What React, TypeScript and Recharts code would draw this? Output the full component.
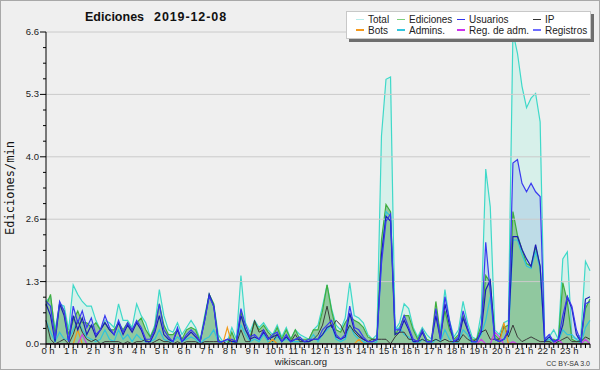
import React from 'react';
import { ComposedChart, Area, Line, XAxis, YAxis, ReferenceLine } from 'recharts';

// values every 12 minutes (5 per hour), 0 h .. 24 h
const total = [
  0.9, 1.0, 0.3, 0.85, 0.8,
  0.3, 1.25, 1.05, 0.9, 0.8,
  0.8, 0.5, 0.3, 0.5, 0.45,
  0.35, 0.85, 0.5, 0.5, 0.35,
  0.85, 0.6, 0.45, 0.15, 0.4,
  1.15, 0.6, 0.3, 0.25, 0.45,
  0.2, 0.35, 0.5, 0.35, 0.1,
  0.6, 1.05, 0.85, 0.2, 0.05,
  0.05, 0.35, 0.1, 1.45, 0.45,
  0.25, 0.5, 0.35, 0.45, 0.3,
  0.2, 0.4, 0.15, 0.35, 0.1,
  0.3, 0.2, 0.15, 0.1, 0.3,
  0.4, 0.8, 1.25, 0.75, 0.4,
  0.3, 0.55, 1.3, 0.6, 0.55,
  0.45, 0.2, 0.1, 0.2, 4.4,
  5.6, 5.65, 0.3, 0.45, 0.85,
  0.75, 0.35, 0.15, 0.35, 0.2,
  0.1, 0.6, 0.3, 1.15, 0.5,
  0.15, 0.3, 0.9, 0.45, 0.15,
  0.1, 0.65, 3.7, 2.9, 0.3,
  0.2, 0.45, 0.5, 6.6, 6.15,
  5.45, 5.0, 5.2, 5.3, 4.7,
  0.1, 0.15, 0.3, 0.1, 1.8,
  1.95, 0.15, 0.1, 0.2, 1.75,
  1.55,
];

const ediciones = [
  0.8, 1.05, 0.2, 0.85, 0.7,
  0.2, 0.5, 0.7, 0.45, 0.45,
  0.35, 0.45, 0.3, 0.45, 0.3,
  0.3, 0.45, 0.3, 0.45, 0.3,
  0.45, 0.55, 0.3, 0.15, 0.35,
  0.85, 0.4, 0.2, 0.2, 0.3,
  0.1, 0.3, 0.35, 0.3, 0.05,
  0.55, 1.05, 0.85, 0.1, 0.0,
  0.0, 0.25, 0.0, 0.7, 0.3,
  0.15, 0.45, 0.3, 0.4, 0.25,
  0.15, 0.35, 0.1, 0.3, 0.1,
  0.3, 0.1, 0.1, 0.1, 0.3,
  0.3, 0.7, 1.25, 0.7, 0.3,
  0.25, 0.45, 0.6, 0.5, 0.45,
  0.35, 0.15, 0.1, 0.1, 2.2,
  2.95, 2.8, 0.2, 0.35, 0.6,
  0.6, 0.3, 0.1, 0.3, 0.1,
  0.05, 0.9, 0.2, 0.7, 0.3,
  0.1, 0.2, 0.6, 0.3, 0.1,
  0.1, 0.4, 1.45, 1.3, 0.2,
  0.1, 0.35, 0.4, 2.8, 2.3,
  2.0, 1.7, 1.65, 2.05, 1.65,
  0.1, 0.05, 0.1, 0.05, 1.3,
  0.9, 0.1, 0.05, 0.1, 0.75,
  0.95,
];

const usuarios = [
  0.9, 0.8, 0.1, 0.9, 0.7,
  0.05, 0.8, 0.45, 0.7, 0.35,
  0.55, 0.2, 0.3, 0.6, 0.35,
  0.2, 0.5, 0.25, 0.45, 0.3,
  0.5, 0.35, 0.1, 0.1, 0.3,
  0.85, 0.3, 0.15, 0.05, 0.35,
  0.05, 0.2, 0.3, 0.2, 0.05,
  0.5, 1.0, 0.8, 0.05, 0.05,
  0.1, 0.1, 0.05, 0.75, 0.4,
  0.15, 0.2, 0.1, 0.3, 0.1,
  0.2, 0.25, 0.05, 0.2, 0.05,
  0.1, 0.15, 0.05, 0.1, 0.1,
  0.1, 0.3, 0.4, 0.5, 0.2,
  0.1, 0.2, 0.8, 0.35, 0.3,
  0.15, 0.05, 0.05, 0.1, 1.7,
  2.6, 2.75, 0.3, 0.3, 0.6,
  0.35, 0.1, 0.05, 0.3, 0.05,
  0.05, 0.75, 0.1, 1.0, 0.5,
  0.05, 0.15, 0.7, 0.35, 0.05,
  0.05, 0.3, 2.15, 1.1, 0.1,
  0.05, 0.1, 0.3, 3.83, 3.9,
  3.4, 3.22, 3.4, 3.22, 3.12,
  0.1, 0.2, 0.05, 0.1, 0.6,
  1.0, 0.8, 0.3, 0.05, 0.85,
  0.9,
];

const registros = [
  0.85, 0.6, 0.05, 0.85, 0.6,
  0.05, 0.6, 0.3, 0.55, 0.2,
  0.4, 0.15, 0.3, 0.45, 0.3,
  0.2, 0.45, 0.2, 0.4, 0.25,
  0.45, 0.3, 0.05, 0.05, 0.25,
  0.6, 0.2, 0.1, 0.05, 0.3,
  0.05, 0.15, 0.25, 0.15, 0.05,
  0.5, 1.05, 0.8, 0.05, 0.05,
  0.1, 0.05, 0.05, 0.6, 0.3,
  0.1, 0.15, 0.1, 0.25, 0.1,
  0.15, 0.2, 0.05, 0.15, 0.05,
  0.1, 0.1, 0.05, 0.05, 0.1,
  0.1, 0.2, 0.35, 0.4, 0.15,
  0.1, 0.15, 0.65, 0.3, 0.2,
  0.1, 0.05, 0.05, 0.1, 1.9,
  2.7, 2.6, 0.2, 0.25, 0.5,
  0.3, 0.05, 0.05, 0.25, 0.05,
  0.05, 0.6, 0.1, 0.85, 0.4,
  0.05, 0.1, 0.55, 0.3, 0.05,
  0.05, 0.25, 1.15, 1.35, 0.1,
  0.05, 0.1, 0.25, 2.27, 2.27,
  2.0, 1.8, 1.64, 2.1, 1.64,
  0.05, 0.15, 0.05, 0.1, 0.4,
  1.0, 0.75, 0.2, 0.05, 0.95,
  1.0,
];

const admins = [
  0.5, 0.25, 0.05, 0.25, 0.1,
  0.1, 0.3, 0.5, 0.3, 0.15,
  0.1, 0.05, 0.1, 0.3, 0.1,
  0.05, 0.3, 0.1, 0.2, 0.05,
  0.2, 0.1, 0.05, 0.05, 0.1,
  0.3, 0.1, 0.05, 0.05, 0.15,
  0.05, 0.1, 0.15, 0.1, 0.0,
  0.1, 0.15, 0.3, 0.05, 0.0,
  0.0, 0.05, 0.0, 0.4, 0.2,
  0.05, 0.1, 0.05, 0.2, 0.05,
  0.05, 0.15, 0.05, 0.1, 0.05,
  0.05, 0.05, 0.05, 0.05, 0.2,
  0.05, 0.2, 0.3, 0.4, 0.1,
  0.05, 0.1, 0.4, 0.2, 0.1,
  0.05, 0.0, 0.0, 0.05, 1.8,
  2.8, 2.7, 0.3, 0.35, 0.2,
  0.15, 0.05, 0.0, 0.1, 0.05,
  0.0, 0.1, 0.05, 0.3, 0.1,
  0.0, 0.05, 0.3, 0.2, 0.0,
  0.05, 0.2, 0.5, 1.0, 0.1,
  0.05, 0.1, 0.15, 2.2, 2.2,
  1.9, 1.65, 1.6, 1.95, 1.6,
  0.05, 0.1, 0.05, 0.05, 0.3,
  0.2, 0.2, 0.1, 0.0, 0.35,
  0.5,
];

const ip = [
  0.5, 0.1, 0.0, 0.05, 0.1,
  0.0, 0.2, 0.5, 0.25, 0.1,
  0.05, 0.1, 0.0, 0.05, 0.05,
  0.05, 0.05, 0.0, 0.05, 0.0,
  0.05, 0.05, 0.1, 0.0, 0.05,
  0.1, 0.05, 0.05, 0.0, 0.05,
  0.0, 0.05, 0.05, 0.05, 0.0,
  0.05, 0.05, 0.05, 0.05, 0.05,
  0.0, 0.1, 0.0, 0.3, 0.05,
  0.05, 0.5, 0.25, 0.3, 0.15,
  0.05, 0.2, 0.05, 0.15, 0.05,
  0.2, 0.05, 0.05, 0.05, 0.1,
  0.2, 0.4, 0.8, 0.35, 0.5,
  0.4, 0.2, 0.4, 0.25, 0.15,
  0.1, 0.05, 0.1, 0.1, 0.1,
  0.1, 0.0, 0.15, 0.25, 0.25,
  0.1, 0.1, 0.05, 0.1, 0.05,
  0.05, 0.1, 0.05, 0.1, 0.05,
  0.05, 0.05, 0.2, 0.1, 0.05,
  0.1, 0.25, 0.3, 0.1, 0.1,
  0.1, 0.4, 0.15, 0.4, 0.15,
  0.05, 0.1, 0.15, 0.1, 0.05,
  0.05, 0.05, 0.0, 0.05, 0.1,
  0.15, 0.05, 0.05, 0.05, 0.15,
  0.1,
];

const bots = [
  0, 0, 0, 0, 0,
  0, 0, 0.3, 0, 0,
  0, 0, 0, 0, 0,
  0, 0, 0, 0, 0,
  0, 0, 0, 0, 0,
  0, 0, 0, 0, 0,
  0, 0, 0, 0, 0,
  0, 0, 0, 0, 0,
  0.35, 0, 0, 0, 0,
  0, 0, 0, 0, 0,
  0.1, 0, 0, 0, 0,
  0, 0, 0, 0, 0,
  0, 0, 0, 0, 0,
  0, 0, 0, 0, 0.1,
  0, 0, 0, 0, 0,
  0, 0, 0, 0, 0,
  0, 0, 0, 0, 0,
  0, 0, 0, 0, 0,
  0, 0, 0, 0, 0,
  0, 0, 0, 0, 0,
  0, 0.45, 0, 0, 0,
  0, 0, 0, 0, 0,
  0, 0, 0, 0, 0,
  0, 0, 0, 0, 0,
  0,
];

const regAdm = [
  0, 0, 0, 0, 0,
  0, 0, 0, 0.2, 0,
  0, 0, 0, 0, 0,
  0, 0, 0, 0, 0,
  0, 0, 0, 0, 0,
  0, 0, 0, 0, 0,
  0, 0, 0, 0, 0,
  0, 0, 0, 0, 0,
  0, 0, 0, 0, 0,
  0, 0, 0, 0, 0,
  0, 0, 0, 0, 0,
  0, 0, 0, 0, 0,
  0, 0, 0, 0, 0,
  0, 0, 0, 0, 0,
  0, 0, 0, 0, 0,
  0, 0, 0, 0, 0,
  0, 0, 0, 0, 0,
  0, 0, 0, 0, 0,
  0, 0, 0, 0, 0,
  0, 0.1, 0, 0, 0.25,
  0.15, 0, 0, 0.05, 0,
  0, 0, 0, 0, 0,
  0, 0, 0, 0.1, 0,
  0, 0, 0, 0, 0.1,
  0,
];

const hourLabels = [
  '0 h', '1 h', '2 h', '3 h', '4 h', '5 h', '6 h', '7 h', '8 h', '9 h', '10 h', '11 h',
  '12 h', '13 h', '14 h', '15 h', '16 h', '17 h', '18 h', '19 h', '20 h', '21 h', '22 h', '23 h',
];
const yMajorTicks = [0, 1.32, 2.64, 3.96, 5.28, 6.6];
const yMax = 6.6;

const legendItems = [
  { name: 'Total', color: '#b4ecea' },
  { name: 'Ediciones', color: '#7ccf7c' },
  { name: 'Usuarios', color: '#3333ee' },
  { name: 'IP', color: '#333333' },
  { name: 'Bots', color: '#f59a1e' },
  { name: 'Admins.', color: '#33c6dd' },
  { name: 'Reg. de adm.', color: '#cc33ee' },
  { name: 'Registros', color: '#6e6eff' },
];

const data = total.map((t, i) => ({
  h: i / 5,
  total: t,
  ediciones: ediciones[i],
  usuarios: usuarios[i],
  registros: registros[i],
  admins: admins[i],
  ip: ip[i],
  bots: bots[i],
  regAdm: regAdm[i],
}));

const xTicks = data.map((d) => d.h);
const yTicks: number[] = [];
for (let k = 0; k <= 20; k++) yTicks.push(+(k * (yMax / 20)).toFixed(3));

const XTick = (props: any) => {
  const { x, y, payload } = props;
  const idx = Math.round(payload.value * 5);
  const isHour = idx % 5 === 0 && idx / 5 < 24;
  return (
    <g>
      <line x1={x} x2={x} y1={y} y2={y + 4} stroke="#000" strokeWidth={1} />
      {isHour && (
        <text x={x + 2} y={y + 10} textAnchor="middle" fontSize={9.5} fill="#222" fontFamily="'Liberation Sans', Arial, sans-serif">
          {hourLabels[idx / 5]}
        </text>
      )}
    </g>
  );
};

const YTick = (props: any) => {
  const { x, y, payload, index } = props;
  const major = index % 4 === 0;
  return (
    <g>
      <line x1={major ? x - 6 : x - 3} x2={x} y1={y} y2={y} stroke="#000" strokeWidth={1} />
      {major && (
        <text x={x - 7} y={y + 3} textAnchor="end" fontSize={9.5} fill="#222" fontFamily="'Liberation Sans', Arial, sans-serif">
          {(yMax * (index / 20)).toFixed(1)}
        </text>
      )}
    </g>
  );
};

const YLabel = () => (
  <text
    transform="translate(14,188) rotate(-90)"
    textAnchor="middle"
    fontSize={12}
    fill="#111"
    fontFamily="'DejaVu Sans Mono', monospace"
  >
    Ediciones/min
  </text>
);

export default function App() {
  return (
    <div
      style={{
        position: 'absolute',
        left: 0,
        top: 0,
        width: 600,
        height: 370,
        boxSizing: 'border-box',
        border: '1px solid #a8a8a8',
        background: '#efefef',
        overflow: 'hidden',
      }}
    >
      <div style={{ position: 'absolute', left: -1, top: -1 }}>
        <ComposedChart width={600} height={370} data={data} margin={{ top: 32, right: 10, bottom: 0, left: 0 }}>
          {yMajorTicks.slice(1).map((v) => (
            <ReferenceLine key={v} y={v} stroke="#cacaca" strokeWidth={1} ifOverflow="extendDomain" />
          ))}
          <XAxis
            dataKey="h"
            type="number"
            domain={[0, 24]}
            ticks={xTicks}
            interval={0}
            height={26}
            tickSize={0}
            tickMargin={0}
            tick={<XTick />}
            axisLine={{ stroke: '#000', strokeWidth: 1.5 }}
            tickLine={false}
          />
          <YAxis
            type="number"
            domain={[0, yMax]}
            ticks={yTicks}
            interval={0}
            width={46}
            tickSize={0}
            tickMargin={0}
            tick={<YTick />}
            axisLine={{ stroke: '#000', strokeWidth: 1 }}
            tickLine={false}
            allowDataOverflow
            label={{ content: <YLabel /> } as any}
          />
          <Area type="linear" dataKey="total" stroke="#3fd9c9" strokeWidth={1.2} fill="#c9efe6" fillOpacity={0.65} isAnimationActive={false} dot={false} />
          <Area type="linear" dataKey="usuarios" stroke="none" fill="#8fb6e2" fillOpacity={0.35} isAnimationActive={false} dot={false} />
          <Area type="linear" dataKey="ediciones" stroke="#3fae3f" strokeWidth={1.2} fill="#8cc699" fillOpacity={0.92} isAnimationActive={false} dot={false} />
          <Line type="linear" dataKey="admins" stroke="#2fc4dc" strokeWidth={1.2} dot={false} isAnimationActive={false} />
          <Line type="linear" dataKey="ip" stroke="#3a3a3a" strokeWidth={1} dot={false} isAnimationActive={false} />
          <Line type="linear" dataKey="bots" stroke="#f09a1a" strokeWidth={1.2} dot={false} isAnimationActive={false} />
          <Line type="linear" dataKey="regAdm" stroke="#cc3ee8" strokeWidth={1.2} dot={false} isAnimationActive={false} />
          <Line type="linear" dataKey="registros" stroke="#1c1cb4" strokeWidth={1.2} dot={false} isAnimationActive={false} />
          <Line type="linear" dataKey="usuarios" stroke="#3a3af0" strokeWidth={1.2} dot={false} isAnimationActive={false} />
        </ComposedChart>
      </div>

      <div
        style={{
          position: 'absolute',
          left: 84,
          top: 9,
          fontFamily: "'Liberation Sans', Arial, sans-serif",
          fontWeight: 'bold',
          fontSize: 12.5,
          color: '#111',
          whiteSpace: 'pre',
          lineHeight: '15px',
        }}
      >
        <span>Ediciones</span>
        <span style={{ marginLeft: 10, letterSpacing: 0.9 }}>2019-12-08</span>
      </div>

      <div
        style={{
          position: 'absolute',
          left: 345,
          top: 10,
          width: 243,
          height: 26,
          background: '#ffffff',
          border: '1px solid #c8c8c8',
          boxShadow: '3px 3px 0 #6e6e6e',
          fontFamily: "'Liberation Sans', Arial, sans-serif",
          fontSize: 10,
          color: '#222',
        }}
      >
        {legendItems.map((it, i) => {
          const col = i % 4;
          const row = Math.floor(i / 4);
          const lineX = [9, 50, 110, 186][col];
          return (
            <div key={it.name} style={{ position: 'absolute', left: lineX, top: 3 + row * 10.5, height: 9, display: 'flex', alignItems: 'center', whiteSpace: 'nowrap' }}>
              <span style={{ display: 'inline-block', width: 8, height: 1.5, background: it.color, marginRight: 4 }} />
              <span style={{ lineHeight: '9px' }}>{it.name}</span>
            </div>
          );
        })}
      </div>

      <div
        style={{
          position: 'absolute',
          left: 250,
          width: 100,
          top: 355,
          textAlign: 'center',
          fontFamily: "'Liberation Sans', Arial, sans-serif",
          fontSize: 9.5,
          color: '#222',
          lineHeight: '12px',
        }}
      >
        wikiscan.org
      </div>
      <div
        style={{
          position: 'absolute',
          right: 9,
          top: 358,
          fontFamily: "'Liberation Sans', Arial, sans-serif",
          fontSize: 7,
          color: '#333',
          lineHeight: '9px',
        }}
      >
        CC BY-SA 3.0
      </div>
    </div>
  );
}
